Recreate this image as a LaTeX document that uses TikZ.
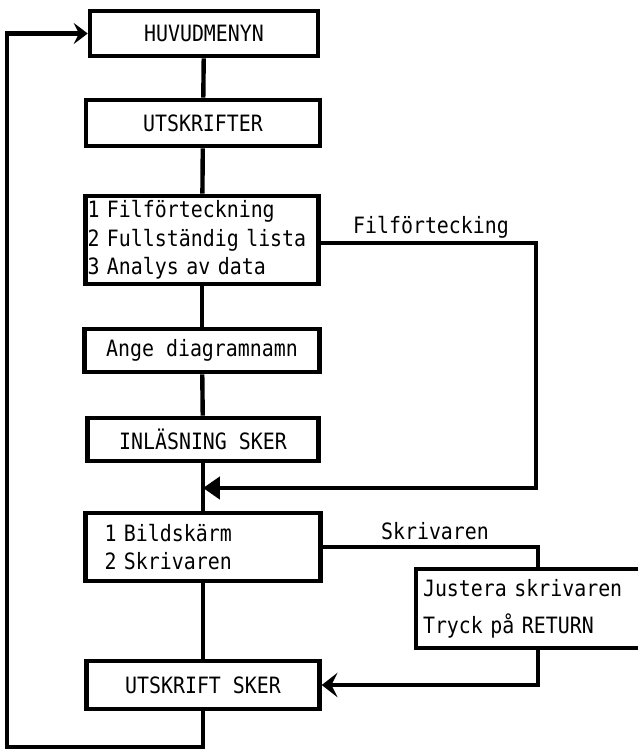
\documentclass[tikz,border=0pt]{standalone}
\usepackage{fontspec}
\newfontfamily\diafont[FakeStretch=0.885]{DejaVu Sans Mono}
\usetikzlibrary{arrows.meta}

\begin{document}
\begin{tikzpicture}[x=0.02cm, y=-0.02cm]

    \tikzset{
        box/.style={
            draw,
            line width=2.6pt,
            fill=white,
            inner sep=0pt,
            minimum width=4.66cm,
            minimum height=0.92cm,
            font=\diafont\fontsize{12.8}{16.2}\selectfont
        },
        listbox/.style={
            box,
            align=left,
            inner ysep=0pt
        },
        link/.style={
            line width=2.5pt
        },
        lbl/.style={
            font=\diafont\fontsize{12.8}{16.2}\selectfont
        }
    }

    \useasboundingbox (0,0) rectangle (638,754);

    % rutor
    \node[box, minimum width=4.56cm, minimum height=0.90cm] (menu) at (204,33.5) {HUVUDMENYN};
    \node[box, minimum width=4.68cm] (prints) at (203,123) {UTSKRIFTER};
    \node[listbox, minimum height=1.76cm, text width=4.58cm, inner xsep=0.02cm] (choice) at (202,240)
        {1 Filförteckning\\2 Fullständig lista\\3 Analys av data};
    \node[box, minimum width=4.70cm, minimum height=0.86cm] (name) at (202,350.5) {Ange diagramnamn};
    \node[box, minimum width=4.62cm, minimum height=0.86cm] (load) at (203,439.5) {INLÄSNING SKER};
    \node[listbox, minimum height=1.36cm, text width=3.94cm, inner xsep=0.38cm] (device) at (203,547)
        {1 Bildskärm\\2 Skrivaren};
    \node[listbox, minimum height=1.58cm, text width=4.60cm, inner xsep=0.14cm,
          font=\diafont\fontsize{12.8}{21}\selectfont] (adjust) at (538,608.5)
        {Justera skrivaren\\Tryck på RETURN};
    \node[box, minimum width=4.66cm, minimum height=0.96cm] (print) at (203,685) {UTSKRIFT SKER};

    % hjälppunkter
    \coordinate (fturn) at (536,488);
    \coordinate (join)  at (203,488);
    \coordinate (lowleft) at (7,747);

    % förbindelser
    \draw[link] (menu) -- (prints);
    \draw[link] (prints) -- (choice);
    \draw[link] (choice) -- (name);
    \draw[link] (name) -- (load);
    \draw[link] (load) -- (device);
    \draw[link] (device) -- (print);
    \draw[link, -{Triangle[length=9.6pt, width=12.5pt]}] ([yshift=-0.06cm]choice.east) -| (fturn) -- (join);
    \draw[link] (device.east) -| (adjust.north);
    \draw[link, -{Stealth[length=9pt, width=14pt, inset=3.5pt]}] (adjust.south) |- (print.east);
    \draw[link, -{Stealth[length=8pt, width=12pt, inset=3pt]}] (print.south) |- (lowleft) |- (menu.west);

    % etiketter
    \node[lbl] (flbl) at (431,227) {Filförtecking};
    \node[lbl] (slbl) at (435,531) {Skrivaren};

\end{tikzpicture}
\end{document}
